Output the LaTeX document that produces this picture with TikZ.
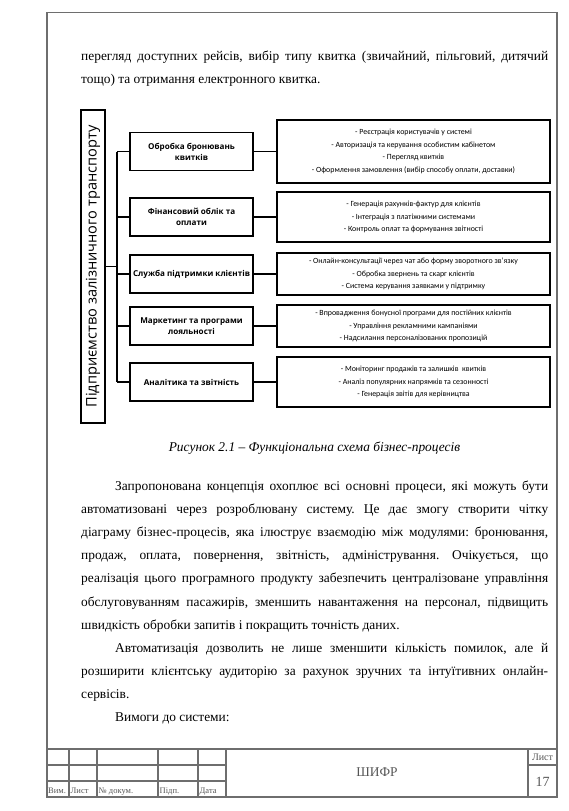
\documentclass[tikz,border=0pt]{standalone}
\usepackage{fontspec}
\setmainfont{Liberation Serif}
\newfontfamily\diagfont{Open Sans}
\newfontfamily\notefont{Carlito}
\usetikzlibrary{positioning}
\frenchspacing

\definecolor{framegray}{HTML}{6E6E6E}
\definecolor{stampgray}{HTML}{555555}

\newcommand{\fullline}[2]{\makebox[#1][s]{#2}}

\tikzset{
  rootbox/.style={draw, line width=1.5pt, rotate=90, minimum width=313pt, minimum height=24pt, inner sep=0pt, font=\diagfont\fontsize{14.6}{16}\selectfont},
  midbox/.style={draw, line width=1.6pt, minimum width=123pt, minimum height=38pt, inner sep=0.5pt, align=center, font=\diagfont\bfseries\fontsize{8.1}{11}\selectfont},
  notebox/.style={draw, line width=1.6pt, minimum width=273pt, inner sep=0pt, align=center, font=\notefont\fontsize{7.9}{12.5}\selectfont},
  link/.style={line width=1.5pt},
  bodyline/.style={anchor=base west, inner sep=0pt, font=\fontsize{13.4}{16}\selectfont},
  stampline/.style={draw=framegray, line width=1.4pt},
  stamptext/.style={text=stampgray, inner sep=0pt},
}

\begin{document}
\begin{tikzpicture}[x=1pt, y=-1pt]
\useasboundingbox (0,0) rectangle (568,811);

% Page frame
\draw[stampline] (47,12.5) rectangle (557,797);

% Text above the figure
\node[bodyline] (t1) at (81,60) {\fullline{467pt}{перегляд доступних рейсів, вибір типу квитка (звичайний, пільговий, дитячий}};
\node[bodyline] (t2) at (81,83) {тощо) та отримання електронного квитка.};

% Root box
\node[rootbox] (root) at (93,266.5) {Підприємство залізничного транспорту};
\coordinate (bus) at (117,266.5);

% Function boxes
\node[midbox] (m1) at (191.5,151.5) {Обробка бронювань\\квитків};
\node[midbox] (m2) at (191.5,217) {Фінансовий облік та\\оплати};
\node[midbox] (m3) at (191.5,274) {Служба підтримки клієнтів};
\node[midbox] (m4) at (191.5,326) {Маркетинг та програми\\лояльності};
\node[midbox] (m5) at (191.5,382) {Аналітика та звітність};

% Detail boxes
\node[notebox, minimum height=63pt] (r1) at (413.5,151.5) {- Реєстрація користувачів у системі\\- Авторизація та керування особистим кабінетом\\- Перегляд квитків\\- Оформлення замовлення (вибір способу оплати, доставки)};
\node[notebox, minimum height=50pt] (r2) at (413.5,217) {- Генерація рахунків-фактур для клієнтів\\- Інтеграція з платіжними системами\\- Контроль оплат та формування звітності};
\node[notebox, minimum height=42pt] (r3) at (413.5,274) {- Онлайн-консультації через чат або форму зворотного зв’язку\\- Обробка звернень та скарг клієнтів\\- Система керування заявками у підтримку};
\node[notebox, minimum height=42pt] (r4) at (413.5,326) {- Впровадження бонусної програми для постійних клієнтів\\- Управління рекламними кампаніями\\- Надсилання персоналізованих пропозицій};
\node[notebox, minimum height=50pt] (r5) at (413.5,382) {- Моніторинг продажів та залишків~ квитків\\- Аналіз популярних напрямків та сезонності\\- Генерація звітів для керівництва};

% Connectors
\draw[link] (root.south) -- (bus);
\draw[link] (bus |- m1.west) -- (bus |- m5.west);
\foreach \i in {1,...,5} {
  \draw[link] (bus |- m\i.west) -- (m\i.west);
  \draw[link] (m\i.east) -- (r\i.west);
}

% Caption
\node[anchor=base, inner sep=0pt, font=\itshape\fontsize{13.4}{16}\selectfont] (cap) at (314.5,451) {Рисунок 2.1 – Функціональна схема бізнес-процесів};

% Text below the figure
\node[bodyline] (p1) at (115,490.5) {\fullline{433pt}{Запропонована концепція охоплює всі основні процеси, які можуть бути}};
\node[bodyline] (p2) at (81,513.6) {\fullline{467pt}{автоматизовані через розроблювану систему. Це дає змогу створити чітку}};
\node[bodyline] (p3) at (81,536.7) {\fullline{467pt}{діаграму бізнес-процесів, яка ілюструє взаємодію між модулями: бронювання,}};
\node[bodyline] (p4) at (81,559.8) {\fullline{467pt}{продаж, оплата, повернення, звітність, адміністрування. Очікується, що}};
\node[bodyline] (p5) at (81,582.9) {\fullline{467pt}{реалізація цього програмного продукту забезпечить централізоване управління}};
\node[bodyline] (p6) at (81,606) {\fullline{467pt}{обслуговуванням пасажирів, зменшить навантаження на персонал, підвищить}};
\node[bodyline] (p7) at (81,629.1) {швидкість обробки запитів і покращить точність даних.};
\node[bodyline] (q1) at (115,652.2) {\fullline{433pt}{Автоматизація дозволить не лише зменшити кількість помилок, але й}};
\node[bodyline] (q2) at (81,675.3) {\fullline{467pt}{розширити клієнтську аудиторію за рахунок зручних та інтуїтивних онлайн-}};
\node[bodyline] (q3) at (81,698.4) {сервісів.};
\node[bodyline] (s1) at (115,721.5) {Вимоги до системи:};

% Title block
\draw[stampline] (47,749) -- (557,749);
\draw[stampline] (47,765) -- (226,765);
\draw[stampline] (47,781) -- (226,781);
\draw[stampline] (528,765) -- (557,765);
\draw[stampline] (69,749) -- (69,797);
\draw[stampline] (97,749) -- (97,797);
\draw[stampline] (158,749) -- (158,797);
\draw[stampline] (198,749) -- (198,797);
\draw[stampline] (226,749) -- (226,797);
\draw[stampline] (528,749) -- (528,797);

\node[stamptext, anchor=base west, font=\fontsize{8.5}{9}\selectfont] (sv) at (48,793) {Вим.};
\node[stamptext, anchor=base west, font=\fontsize{8.5}{9}\selectfont] (sl) at (70.5,793) {Лист};
\node[stamptext, anchor=base west, font=\fontsize{8.5}{9}\selectfont] (sd) at (98.5,793) {№ докум.};
\node[stamptext, anchor=base west, font=\fontsize{8.5}{9}\selectfont] (sp) at (159.5,793) {Підп.};
\node[stamptext, anchor=base west, font=\fontsize{8.5}{9}\selectfont] (sa) at (199.5,793) {Дата};
\node[stamptext, font=\fontsize{13.4}{16}\selectfont] (code) at (377,772) {ШИФР};
\node[stamptext, font=\fontsize{10}{11}\selectfont] (sheet) at (542.5,757.5) {Лист};
\node[stamptext, font=\fontsize{14}{16}\selectfont] (num) at (542.5,781.5) {17};

\end{tikzpicture}
\end{document}
